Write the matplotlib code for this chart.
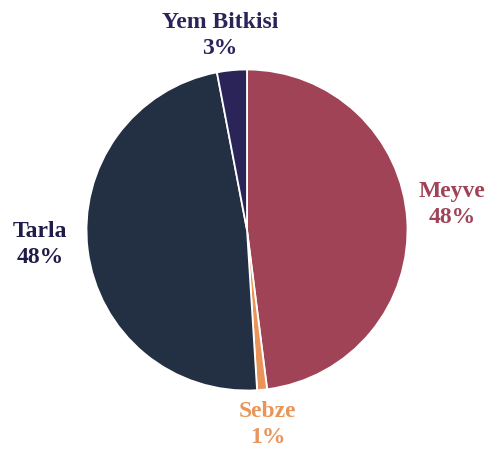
import matplotlib
matplotlib.use('Agg')
import matplotlib.pyplot as plt

categories = ['Meyve', 'Sebze', 'Tarla', 'Yem Bitkisi']
sizes = [48, 1, 48, 3]
pct_labels = ['48%', '1%', '48%', '3%']

colors = ['#a04356', '#e9955a', '#232f43', '#2a2459']
label_colors = ['#a04356', '#e9955a', '#1f1c48', '#2a2459']
# label anchor points in pie units (radius = 1)
label_pos = [(1.28, 0.16), (0.13, -1.21), (-1.29, -0.09), (-0.17, 1.21)]

plt.rcParams['font.family'] = ['Liberation Serif', 'DejaVu Serif']

fig = plt.figure(figsize=(4.9, 4.54), dpi=100)
W, H = 490, 454
cx, cy, r = 247, 230, 160.5
ax = fig.add_axes([(cx - r) / W, (H - cy - r) / H, 2 * r / W, 2 * r / H])
ax.pie(sizes, colors=colors, startangle=90, counterclock=False,
       wedgeprops=dict(edgecolor='white', linewidth=1.3))
ax.set_xlim(-1, 1)
ax.set_ylim(-1, 1)
ax.set_aspect('equal')
ax.axis('off')

for name, pct, col, (x, y) in zip(categories, pct_labels, label_colors, label_pos):
    ax.text(x, y, name + '\n' + pct, ha='center', va='center', color=col,
            fontsize=17, fontweight='bold', linespacing=1.3)

fig.savefig('out.png', dpi=100)
